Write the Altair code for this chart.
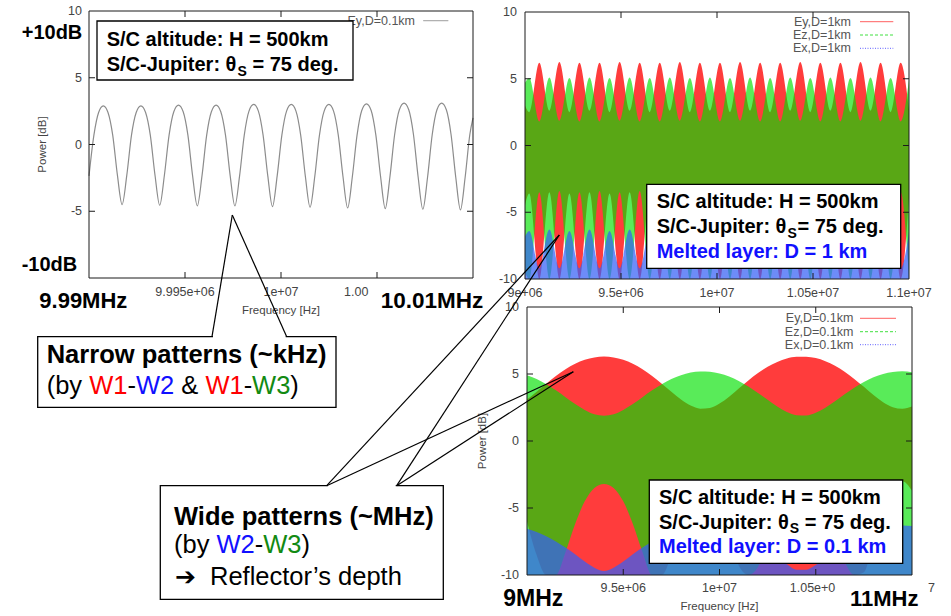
import altair as alt
import pandas as pd

W, H = 951, 616
FONT = "Liberation Sans"

# ---------------- top-left panel: Ey, D=0.1km (Hz, dB) ----------------
tl_freq = [9990000, 9990255, 9990500, 9990745, 9990990, 9991235, 9991480, 9991724, 9991969,
           9992213, 9992458, 9992703, 9992948, 9993193, 9993438, 9993682, 9993927,
           9994171, 9994416, 9994661, 9994906, 9995151, 9995396, 9995640, 9995885,
           9996129, 9996374, 9996619, 9996864, 9997109, 9997354, 9997598, 9997843,
           9998087, 9998332, 9998577, 9998822, 9999067, 9999312, 9999556, 9999801,
           10000045, 10000290, 10000535, 10000780, 10001025, 10001270, 10001514, 10001759,
           10002003, 10002248, 10002493, 10002738, 10002983, 10003228, 10003472, 10003717,
           10003961, 10004206, 10004451, 10004696, 10004941, 10005186, 10005430, 10005675,
           10005919, 10006164, 10006409, 10006654, 10006899, 10007144, 10007388, 10007633,
           10007877, 10008122, 10008367, 10008612, 10008857, 10009102, 10009346, 10009591,
           10009835, 10010000]
tl_power = [-2.35,
            0.7, 2.4, 2.9, 2.4, 0.7, -2.3, -4.5, -2.3,
            0.7, 2.4, 2.9, 2.4, 0.7, -2.3, -4.55, -2.3,
            0.7, 2.45, 2.95, 2.45, 0.7, -2.35, -4.6, -2.35,
            0.7, 2.45, 2.95, 2.45, 0.7, -2.35, -4.6, -2.35,
            0.7, 2.5, 3.0, 2.5, 0.7, -2.35, -4.65, -2.35,
            0.7, 2.5, 3.0, 2.5, 0.7, -2.4, -4.7, -2.4,
            0.7, 2.5, 3.0, 2.5, 0.7, -2.4, -4.75, -2.4,
            0.7, 2.55, 3.05, 2.55, 0.7, -2.4, -4.8, -2.4,
            0.75, 2.6, 3.1, 2.6, 0.75, -2.45, -4.85, -2.45,
            0.75, 2.6, 3.1, 2.6, 0.75, -2.45, -4.9, -2.45,
            0.75, 2.0]

# ---------------- top-right panel: D = 1 km, envelopes of dense traces ----------------
tr_freq = [9.0000e6,
           9.0222e6, 9.0745e6, 9.1268e6, 9.1791e6, 9.2313e6, 9.2836e6, 9.3359e6, 9.3882e6,
           9.4404e6, 9.4927e6, 9.5450e6, 9.5973e6, 9.6495e6, 9.7018e6, 9.7541e6, 9.8064e6,
           9.8586e6, 9.9109e6, 9.9632e6, 10.0155e6, 10.0677e6, 10.1200e6, 10.1723e6, 10.2246e6,
           10.2768e6, 10.3291e6, 10.3814e6, 10.4337e6, 10.4859e6, 10.5382e6, 10.5905e6, 10.6428e6,
           10.6950e6, 10.7473e6, 10.7996e6, 10.8519e6, 10.9041e6, 10.9564e6,
           11.0000e6]
tr_ey_top = [3.0,
             2.5, 6.2, 2.6, 6.25, 2.5, 6.2, 2.6, 6.2,
             2.5, 6.25, 2.6, 6.2, 2.5, 6.2, 2.6, 6.25,
             2.5, 6.2, 2.6, 6.2, 2.5, 6.25, 2.6, 6.2,
             2.5, 6.2, 2.6, 6.25, 2.5, 6.2, 2.6, 6.2,
             2.5, 6.25, 2.6, 6.2, 2.5, 6.2,
             2.7]
tr_ey_bot = [-4.5,
             -3.6, -10, -3.5, -10, -3.6, -10, -3.5, -10,
             -3.6, -10, -3.5, -10, -3.6, -10, -3.5, -10,
             -3.6, -10, -3.5, -10, -3.6, -10, -3.5, -10,
             -3.6, -10, -3.5, -10, -3.6, -10, -3.5, -10,
             -3.6, -10, -3.5, -10, -3.6, -10,
             -3.9]
tr_ez_top = [4.7,
             5.05, 1.8, 5.1, 1.85, 5.05, 1.8, 5.1, 1.8,
             5.05, 1.85, 5.1, 1.8, 5.05, 1.8, 5.1, 1.85,
             5.05, 1.8, 5.1, 1.8, 5.05, 1.85, 5.1, 1.8,
             5.05, 1.8, 5.1, 1.85, 5.05, 1.8, 5.1, 1.8,
             5.05, 1.85, 5.1, 1.8, 5.05, 1.8,
             4.9]
tr_ez_bot = [-9.5,
             -10, -3.5, -10, -3.4, -10, -3.5, -10, -3.4,
             -10, -3.5, -10, -3.4, -10, -3.5, -10, -3.4,
             -10, -3.5, -10, -3.4, -10, -3.5, -10, -3.4,
             -10, -3.5, -10, -3.4, -10, -3.5, -10, -3.4,
             -10, -3.5, -10, -3.4, -10, -3.5,
             -10]
tr_ex_top = [-6.8,
             -6.4, -9.2, -6.3, -9.2, -6.4, -9.2, -6.3, -9.2,
             -6.4, -9.2, -6.3, -9.2, -6.4, -9.2, -6.3, -9.2,
             -6.4, -9.2, -6.3, -9.2, -6.4, -9.2, -6.3, -9.2,
             -6.4, -9.2, -6.3, -9.2, -6.4, -9.2, -6.3, -9.2,
             -6.4, -9.2, -6.3, -9.2, -6.4, -9.2,
             -6.5]

# ---------------- bottom-right panel: D = 0.1 km ----------------
br_freq = [9.00e6, 9.05e6, 9.10e6, 9.15e6, 9.20e6, 9.25e6, 9.30e6, 9.35e6, 9.40e6,
           9.45e6, 9.50e6, 9.55e6, 9.60e6, 9.65e6, 9.70e6, 9.75e6, 9.80e6, 9.85e6,
           9.90e6, 9.95e6, 10.00e6, 10.05e6, 10.10e6, 10.15e6, 10.20e6, 10.25e6, 10.30e6,
           10.35e6, 10.40e6, 10.45e6, 10.50e6, 10.55e6, 10.60e6, 10.65e6, 10.70e6, 10.75e6,
           10.80e6, 10.85e6, 10.90e6, 10.95e6, 11.00e6]
br_ey_top = [3.09, 3.67, 4.28, 4.86, 5.36, 5.77, 6.07, 6.24, 6.30,
             6.24, 6.07, 5.77, 5.36, 4.86, 4.28, 3.67, 3.09, 2.64,
             2.41, 2.47, 2.80, 3.31, 3.92, 4.52, 5.07, 5.54, 5.90,
             6.15, 6.28, 6.29, 6.19, 5.96, 5.62, 5.17, 4.63, 4.04,
             3.43, 2.89, 2.52, 2.40, 2.57]
br_ey_bot = [-6.0, -8.5, -10, -10, -10, -10, -10, -10, -10,
             -10, -10, -10, -10, -10, -10, -8.5, -6.0, -4.0,
             -3.05, -3.3, -4.7, -7.0, -9.3, -10, -10, -10, -10,
             -10, -10, -10, -10, -10, -10, -10, -10, -9.8,
             -7.5, -5.1, -3.5, -3.0, -3.7]
br_ez_top = [4.91, 4.62, 4.24, 3.78, 3.27, 2.76, 2.32, 2.00, 1.89,
             2.00, 2.32, 2.76, 3.27, 3.78, 4.24, 4.62, 4.91, 5.11,
             5.19, 5.17, 5.04, 4.81, 4.48, 4.06, 3.58, 3.07, 2.57,
             2.17, 1.93, 1.91, 2.11, 2.49, 2.96, 3.48, 3.97, 4.40,
             4.75, 5.00, 5.15, 5.20, 5.13]
br_ez_bot = [-10, -10, -10, -10, -8.3, -6.2, -4.5, -3.5, -3.2,
             -3.5, -4.5, -6.2, -8.3, -10, -10, -10, -10, -10,
             -10, -10, -10, -10, -10, -10, -9.4, -7.4, -5.5,
             -4.0, -3.3, -3.25, -3.8, -5.2, -7.0, -9.0, -10, -10,
             -10, -10, -10, -10, -10]
br_ex_top = [-6.55, -6.8, -7.1, -7.5, -7.95, -8.45, -9.0, -9.45, -9.7,
             -9.45, -9.0, -8.45, -7.95, -7.5, -7.1, -6.8, -6.55, -6.4,
             -6.3, -6.33, -6.45, -6.65, -6.9, -7.25, -7.65, -8.15, -8.7,
             -9.2, -9.6, -9.6, -9.25, -8.8, -8.25, -7.75, -7.3, -6.95,
             -6.7, -6.5, -6.35, -6.3, -6.35]

# ---------------- ticks / labels ----------------
tl_xticks = [9.99e6, 9.995e6, 1.0e7, 1.0005e7, 1.001e7]
tl_xlabels = ["", "9.995e+06", "1e+07", "", ""]
r_xticks = [9.0e6, 9.5e6, 1.0e7, 1.05e7, 1.1e7]
tr_xlabels = ["9e+06", "9.5e+06", "1e+07", "1.05e+07", "1.1e+07"]
br_xlabels = ["", "9.5e+06", "1e+07", "", ""]
y_ticks = [-10, -5, 0, 5, 10]
tl_ylabels = ["", "-5", "0", "5", "10"]
r_ylabels = ["-10", "-5", "0", "5", "10"]
# tick labels that the big MHz captions cut off in the reference (tick, visible part)
tl_cut_ticks, tl_cut_text = [1.0005e7], ["1.00"]
br_cut_ticks, br_cut_text = [1.05e7, 1.1e7], ["1.05e+0", "7"]

RED, GREEN, BLUE = "#ff3c3c", "#00e000", "#3560f5"
T_RED, T_BLUE, T_GREEN = "#ff0000", "#1010ff", "#128a12"
LAB = "#444444"

# invisible axes (kept so the layered spec keeps axis components)
HIDDEN_X = alt.Axis(orient="bottom", labels=False, ticks=False, domain=False, grid=False, title="")
HIDDEN_Y = alt.Axis(orient="left", labels=False, ticks=False, domain=False, grid=False, title="")


def frame_layers(xsc, ysc, xdom, ydom, xticks, yticks):
    fr = pd.DataFrame({"x0": [xdom[0]], "x1": [xdom[1]], "y0": [ydom[0]], "y1": [ydom[1]]})
    frame = alt.Chart(fr).mark_rect(fill="white", fillOpacity=0, stroke="#1a1a1a", strokeWidth=1).encode(
        x=alt.X("x0:Q", scale=xsc, axis=HIDDEN_X), x2="x1:Q",
        y=alt.Y("y0:Q", scale=ysc, axis=HIDDEN_Y), y2="y1:Q")
    xt = pd.DataFrame({"v": xticks[1:-1]})
    yt = pd.DataFrame({"v": yticks[1:-1]})
    out = [frame]
    for yv, off in [(ydom[0], -6), (ydom[1], 6)]:
        out.append(alt.Chart(xt).mark_rule(color="#1a1a1a", strokeWidth=1, y2Offset=off).encode(
            x=alt.X("v:Q", scale=xsc, axis=None), y=alt.datum(yv), y2=alt.datum(yv)))
    for xv, off in [(xdom[0], 6), (xdom[1], -6)]:
        out.append(alt.Chart(yt).mark_rule(color="#1a1a1a", strokeWidth=1, x2Offset=off).encode(
            y=alt.Y("v:Q", scale=ysc, axis=None), x=alt.datum(xv), x2=alt.datum(xv)))
    return out


def label_layers(xsc, ysc, xdom, ydom, xticks, xlabels, ylabels, xdy, ydx,
                 xtitle=None, xtitle_x=None, xtitle_dy=0, ytitle=None, ytitle_dx=0,
                 cut=None):
    xl = pd.DataFrame({"v": [v for v, l in zip(xticks, xlabels) if l],
                       "l": [l for l in xlabels if l]})
    xl["w"] = float(ydom[0])
    yl = pd.DataFrame({"w": [float(v) for v, l in zip(y_ticks, ylabels) if l],
                       "l": [l for l in ylabels if l]})
    yl["v"] = float(xdom[0])
    out = [
        alt.Chart(xl).mark_text(baseline="middle", align="center", dy=xdy, font=FONT,
                                fontSize=12.5, color=LAB).encode(
            x=alt.X("v:Q", scale=xsc, axis=None), y=alt.Y("w:Q", scale=ysc, axis=None), text="l:N"),
        alt.Chart(yl).mark_text(baseline="middle", align="right", dx=ydx, font=FONT,
                                fontSize=12.5, color=LAB).encode(
            x=alt.X("v:Q", scale=xsc, axis=None), y=alt.Y("w:Q", scale=ysc, axis=None), text="l:N"),
    ]
    if cut:
        # each partially hidden label: (tick, visible text, pixel shift of its left edge)
        for tick, txt, shift in cut:
            cd = pd.DataFrame({"v": [tick], "w": [float(ydom[0])], "l": [txt]})
            out.append(alt.Chart(cd).mark_text(baseline="middle", align="left", dy=xdy, dx=shift,
                                               font=FONT, fontSize=12.5, color=LAB).encode(
                x=alt.X("v:Q", scale=xsc, axis=None), y=alt.Y("w:Q", scale=ysc, axis=None),
                text="l:N"))
    if xtitle:
        td = pd.DataFrame({"v": [xtitle_x], "w": [float(ydom[0])], "l": [xtitle]})
        out.append(alt.Chart(td).mark_text(baseline="middle", align="center", dy=xtitle_dy,
                                           font=FONT, fontSize=11.5, color=LAB).encode(
            x=alt.X("v:Q", scale=xsc, axis=None), y=alt.Y("w:Q", scale=ysc, axis=None), text="l:N"))
    if ytitle:
        td = pd.DataFrame({"v": [float(xdom[0])], "w": [0.0], "l": [ytitle]})
        out.append(alt.Chart(td).mark_text(baseline="middle", align="center", angle=270,
                                           dy=ytitle_dx, font=FONT, fontSize=11.5,
                                           color=LAB).encode(
            x=alt.X("v:Q", scale=xsc, axis=None), y=alt.Y("w:Q", scale=ysc, axis=None), text="l:N"))
    return out


def band(df, top, bot, color, opacity, xsc, ysc):
    y2 = alt.Y2(f"{bot}:Q") if bot else alt.datum(-10)
    return alt.Chart(df).mark_area(color=color, opacity=opacity, interpolate="monotone").encode(
        x=alt.X("f:Q", scale=xsc, axis=None), y=alt.Y(f"{top}:Q", scale=ysc, axis=None), y2=y2)


# ---------------- top-left ----------------
TLX = alt.Scale(domain=[9.99e6, 1.001e7], range=[89, 473], nice=False, zero=False)
TLY = alt.Scale(domain=[-10, 10], range=[278, 11], nice=False, zero=False)
df_tl = pd.DataFrame({"f": tl_freq, "p": tl_power})
tl_line = alt.Chart(df_tl).mark_line(color="#8c8c8c", strokeWidth=1.2, interpolate="monotone").encode(
    x=alt.X("f:Q", scale=TLX, axis=None), y=alt.Y("p:Q", scale=TLY, axis=None))
tl = alt.layer(
    tl_line,
    *frame_layers(TLX, TLY, [9.99e6, 1.001e7], [-10, 10], tl_xticks, y_ticks),
    *label_layers(TLX, TLY, [9.99e6, 1.001e7], [-10, 10], tl_xticks, tl_xlabels, tl_ylabels,
                  14, -7, "Frequency [Hz]", 1.0e7, 33, "Power [dB]", -46,
                  cut=[(tl_cut_ticks[0], tl_cut_text[0], -33)]))

# ---------------- top-right ----------------
TRX = alt.Scale(domain=[9e6, 1.1e7], range=[525, 909], nice=False, zero=False)
TRY = alt.Scale(domain=[-10, 10], range=[279, 12], nice=False, zero=False)
df_tr = pd.DataFrame({"f": tr_freq, "uy": tr_ey_top, "ly": tr_ey_bot, "uz": tr_ez_top,
                      "lz": tr_ez_bot, "ux": tr_ex_top})
tr = alt.layer(
    band(df_tr, "uy", "ly", RED, 1, TRX, TRY),
    band(df_tr, "uz", "lz", GREEN, 0.65, TRX, TRY),
    band(df_tr, "ux", None, BLUE, 0.72, TRX, TRY),
    *frame_layers(TRX, TRY, [9e6, 1.1e7], [-10, 10], r_xticks, y_ticks),
    *label_layers(TRX, TRY, [9e6, 1.1e7], [-10, 10], r_xticks, tr_xlabels, r_ylabels, 14, -8))

# ---------------- bottom-right ----------------
BRX = alt.Scale(domain=[9e6, 1.1e7], range=[527, 912], nice=False, zero=False)
BRY = alt.Scale(domain=[-10, 10], range=[575, 307], nice=False, zero=False)
df_br = pd.DataFrame({"f": br_freq, "uy": br_ey_top, "ly": br_ey_bot, "uz": br_ez_top,
                      "lz": br_ez_bot, "ux": br_ex_top})
br = alt.layer(
    band(df_br, "uy", "ly", RED, 1, BRX, BRY),
    band(df_br, "uz", "lz", GREEN, 0.65, BRX, BRY),
    band(df_br, "ux", None, BLUE, 0.72, BRX, BRY),
    *frame_layers(BRX, BRY, [9e6, 1.1e7], [-10, 10], r_xticks, y_ticks),
    *label_layers(BRX, BRY, [9e6, 1.1e7], [-10, 10], r_xticks, br_xlabels, r_ylabels,
                  13, -8, "Frequency [Hz]", 1.0e7, 32, "Power [dB]", -44,
                  cut=[(br_cut_ticks[0], br_cut_text[0], -26),
                       (br_cut_ticks[1], br_cut_text[1], 16)]))

# ---------------- page annotations (figure pixel layout) ----------------
PX = alt.Scale(domain=[0, W], range=[0, W], nice=False, zero=False)
PY = alt.Scale(domain=[0, H], range=[0, H], nice=False, zero=False)


def pxy(df):
    return alt.Chart(df)


leg_lines = pd.DataFrame({
    "x": [423.3, 860, 860, 860, 860, 860, 860],
    "x2": [448.3, 893.3, 893.3, 893.3, 896, 896, 896],
    "y": [20.7, 21.7, 35.0, 48.3, 318.3, 331.7, 344.7],
    "c": ["#8c8c8c", "#ff6060", "#40e040", "#6060ff", "#ff6060", "#40e040", "#6060ff"],
    "d": ["solid", "solid", "dash", "dot", "solid", "dash", "dot"]})
l_leglines = pxy(leg_lines).mark_rule(strokeWidth=1).encode(
    x=alt.X("x:Q", scale=PX, axis=None), x2="x2:Q", y=alt.Y("y:Q", scale=PY, axis=None),
    color=alt.Color("c:N", scale=None),
    strokeDash=alt.StrokeDash("d:N", scale=alt.Scale(domain=["solid", "dash", "dot"],
                                                     range=[[1, 0], [3, 2], [1, 1.5]]), legend=None))

leg_text = pd.DataFrame({
    "t": ["Ey,D=0.1km", "Ey,D=1km", "Ez,D=1km", "Ex,D=1km", "Ey,D=0.1km", "Ez,D=0.1km", "Ex,D=0.1km"],
    "x": [415, 851, 851, 851, 853.3, 853.3, 853.3],
    "y": [20.7, 21.7, 35.0, 48.3, 318.3, 331.7, 344.7]})
l_legtext = pxy(leg_text).mark_text(align="right", baseline="middle", font=FONT, fontSize=12.5,
                                    color="#555555").encode(
    x=alt.X("x:Q", scale=PX, axis=None), y=alt.Y("y:Q", scale=PY, axis=None), text="t:N")

boxes = pd.DataFrame({"x": [97, 646.7, 649.3, 37.7, 160.3],
                      "x2": [353, 900.7, 902.7, 336, 443.3],
                      "y": [21, 184.3, 480, 336.7, 485.7],
                      "y2": [80, 268.3, 563.3, 407.3, 599.3]})
l_boxes = pxy(boxes).mark_rect(fill="white", stroke="black", strokeWidth=1.3).encode(
    x=alt.X("x:Q", scale=PX, axis=None), x2="x2:Q", y=alt.Y("y:Q", scale=PY, axis=None), y2="y2:Q")

gaps = pd.DataFrame({"x": [213, 327.7], "x2": [285.7, 395.7], "y": [336.7, 485.7]})
l_gaps = pxy(gaps).mark_rule(color="white", strokeWidth=3).encode(
    x=alt.X("x:Q", scale=PX, axis=None), x2="x2:Q", y=alt.Y("y:Q", scale=PY, axis=None))

callouts = pd.DataFrame({
    "x": [212, 286.7, 326.7, 396.7, 326.7, 396.7],
    "y": [336.7, 336.7, 485.7, 485.7, 485.7, 485.7],
    "x2": [232.3, 232.3, 559.3, 559.3, 573.3, 573.3],
    "y2": [215, 215, 235, 235, 371.7, 371.7]})
l_callouts = pxy(callouts).mark_rule(color="black", strokeWidth=1.2).encode(
    x=alt.X("x:Q", scale=PX, axis=None), x2="x2:Q",
    y=alt.Y("y:Q", scale=PY, axis=None), y2="y2:Q")

bold_rows = [
    ("+10dB", 21.7, 39.3, 20, "black"),
    ("-10dB", 21.7, 270.7, 20, "black"),
    ("9.99MHz", 39.3, 308.3, 22, "black"),
    ("10.01MHz", 380.7, 308.3, 22.5, "black"),
    ("9MHz", 503.3, 606.0, 23, "black"),
    ("11MHz", 850.0, 606.0, 22, "black"),
    ("S/C altitude: H = 500km", 106.7, 46.0, 20, "black"),
    ("S/C-Jupiter: θ", 106.7, 70.7, 20, "black"),
    ("S", 237.5, 75.5, 14, "black"),
    ("= 75 deg.", 252.4, 70.7, 20, "black"),
    ("S/C altitude: H = 500km", 656.7, 208.3, 20, "black"),
    ("S/C-Jupiter: θ", 656.7, 233.3, 20, "black"),
    ("S", 787.5, 238.0, 14, "black"),
    ("= 75 deg.", 797.5, 233.3, 20, "black"),
    ("Melted layer: D = 1 km", 656.7, 258.3, 20, T_BLUE),
    ("S/C altitude: H = 500km", 659.0, 504.0, 20, "black"),
    ("S/C-Jupiter: θ", 659.0, 528.7, 20, "black"),
    ("S", 789.8, 533.4, 14, "black"),
    ("= 75 deg.", 804.7, 528.7, 20, "black"),
    ("Melted layer: D = 0.1 km", 659.0, 553.3, 20, T_BLUE),
    ("Narrow patterns (~kHz)", 46.7, 363.3, 25.5, "black"),
    ("Wide patterns (~MHz)", 174.0, 525.0, 25.5, "black"),
]
reg_rows = [
    ("(by", 46.7, 394.3, 25.5, "black"),
    ("W1", 89.2, 394.3, 25.5, T_RED),
    ("-", 127.45, 394.3, 25.5, "black"),
    ("W2", 135.94, 394.3, 25.5, T_BLUE),
    ("&", 181.28, 394.3, 25.5, "black"),
    ("W1", 205.38, 394.3, 25.5, T_RED),
    ("-", 243.63, 394.3, 25.5, "black"),
    ("W3", 252.12, 394.3, 25.5, T_GREEN),
    (")", 290.37, 394.3, 25.5, "black"),
    ("(by", 174.0, 553.3, 25.5, "black"),
    ("W2", 216.5, 553.3, 25.5, T_BLUE),
    ("-", 254.75, 553.3, 25.5, "black"),
    ("W3", 263.24, 553.3, 25.5, T_GREEN),
    (")", 301.49, 553.3, 25.5, "black"),
    ("Reflector\u2019s depth", 210.0, 585.0, 25.5, "black"),
]
arrow_rows = [("\u2794", 175.0, 585.0, 25, "black")]


def text_layer(rows, weight, font):
    df = pd.DataFrame(rows, columns=["t", "x", "y", "s", "c"])
    return pxy(df).mark_text(align="left", baseline="alphabetic", font=font, fontWeight=weight).encode(
        x=alt.X("x:Q", scale=PX, axis=None), y=alt.Y("y:Q", scale=PY, axis=None),
        text="t:N", color=alt.Color("c:N", scale=None), size=alt.Size("s:Q", scale=None))


page = alt.layer(l_leglines, l_legtext, l_boxes, l_gaps, l_callouts,
                 text_layer(bold_rows, "bold", FONT),
                 text_layer(reg_rows, "normal", FONT),
                 text_layer(arrow_rows, "bold", "DejaVu Sans"))

chart = alt.layer(tl, tr, br, page).resolve_scale(
    x="independent", y="independent"
).properties(
    width=W, height=H, autosize=alt.AutoSizeParams(type="none"), padding=0, background="white"
).configure_view(strokeWidth=0)

chart.save("out.html", embed_options={"renderer": "svg", "actions": False})
